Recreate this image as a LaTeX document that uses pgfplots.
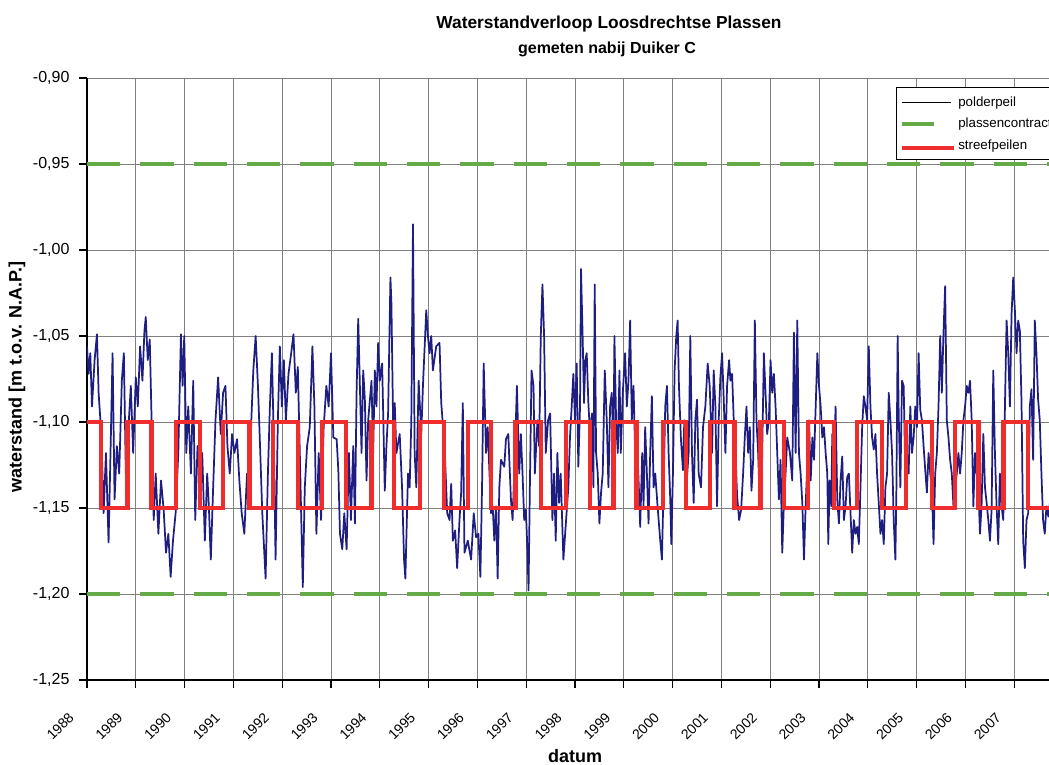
\documentclass[border=0pt]{standalone}
\usepackage{pgfplots}
\pgfplotsset{compat=1.18}
\usepackage{fontspec}
\setmainfont{Liberation Sans}
\definecolor{polder}{RGB}{30,30,130}
\definecolor{contract}{RGB}{100,170,70}
\definecolor{streef}{RGB}{240,45,45}
\begin{document}
\begin{tikzpicture}
\useasboundingbox (-65.25pt,-63pt) rectangle (721.5pt,510pt);
\clip (-65.25pt,-63pt) rectangle (721.5pt,510pt);
\begin{axis}[
  at={(0pt,0pt)}, anchor=south west,
  scale only axis,
  width=750.3pt, height=451.5pt,
  xmin=1988, xmax=2008.5, ymin=-1.25, ymax=-0.90,
  axis lines*=left,
  axis line style={black, line width=1.4pt},
  xtick={1988,1989,1990,1991,1992,1993,1994,1995,1996,1997,1998,1999,2000,2001,2002,2003,2004,2005,2006,2007,2008},
  xticklabels={1988,1989,1990,1991,1992,1993,1994,1995,1996,1997,1998,1999,2000,2001,2002,2003,2004,2005,2006,2007,{}},
  ytick={-1.25,-1.20,-1.15,-1.10,-1.05,-1.00,-0.95,-0.90},
  /pgf/number format/assume math mode=true,
  yticklabel style={/pgf/number format/fixed, /pgf/number format/fixed zerofill, /pgf/number format/precision=2, /pgf/number format/use comma,
    anchor=east, inner sep=0pt, xshift=-7pt, font=\fontsize{12}{14}\selectfont},
  xticklabel style={xshift=-14.5pt, yshift=-17.5pt, rotate=45, anchor=north east, inner sep=0pt, font=\fontsize{10.5}{12}\selectfont},
  grid=major,
  major grid style={black!50, line width=0.6pt},
  tick align=outside,
  major tick length=6pt,
  tick style={black, line width=0.8pt},
  legend style={at={(axis cs:2004.57,-0.9055)}, anchor=north west, draw=black, line width=0.75pt,
    font=\fontsize{10}{12}\selectfont, row sep=3.3pt, inner xsep=2.5pt, inner ysep=4.5pt},
  legend cell align=left,
]
\addplot[polder, line width=1.3pt, line join=round,
  legend image code/.code={\draw[black, line width=0.9pt] (0pt,0pt) -- (37pt,0pt);}] coordinates {
(1988.000,-1.056) (1988.034,-1.072) (1988.068,-1.060) (1988.102,-1.091) (1988.156,-1.064) (1988.204,-1.049) (1988.238,-1.083) (1988.293,-1.107) (1988.340,-1.153) (1988.388,-1.118) (1988.442,-1.170) (1988.490,-1.107) (1988.524,-1.060) (1988.565,-1.145) (1988.612,-1.114) (1988.660,-1.130) (1988.714,-1.076) (1988.755,-1.060) (1988.796,-1.130) (1988.850,-1.103) (1988.898,-1.079) (1988.946,-1.118) (1989.000,-1.074)
(1989.041,-1.091) (1989.088,-1.056) (1989.136,-1.076) (1989.177,-1.047) (1989.204,-1.039) (1989.245,-1.064) (1989.286,-1.052) (1989.327,-1.103) (1989.367,-1.157) (1989.408,-1.130) (1989.463,-1.165) (1989.517,-1.134) (1989.571,-1.151) (1989.619,-1.176) (1989.667,-1.165) (1989.714,-1.190) (1989.762,-1.169) (1989.816,-1.153) (1989.871,-1.118) (1989.925,-1.049) (1989.959,-1.079) (1989.993,-1.050)
(1990.034,-1.118) (1990.075,-1.091) (1990.129,-1.130) (1990.177,-1.076) (1990.218,-1.157) (1990.265,-1.114) (1990.313,-1.130) (1990.361,-1.118) (1990.415,-1.169) (1990.463,-1.130) (1990.497,-1.149) (1990.537,-1.180) (1990.585,-1.138) (1990.633,-1.099) (1990.687,-1.074) (1990.741,-1.107) (1990.789,-1.083) (1990.837,-1.079) (1990.878,-1.114) (1990.925,-1.130) (1990.973,-1.107)
(1991.020,-1.118) (1991.075,-1.110) (1991.122,-1.134) (1991.170,-1.153) (1991.224,-1.165) (1991.279,-1.130) (1991.320,-1.149) (1991.367,-1.099) (1991.408,-1.070) (1991.456,-1.050) (1991.503,-1.079) (1991.551,-1.118) (1991.592,-1.153) (1991.626,-1.172) (1991.660,-1.191) (1991.707,-1.130) (1991.748,-1.091) (1991.789,-1.060) (1991.830,-1.114) (1991.864,-1.180) (1991.911,-1.099) (1991.952,-1.056) (1991.993,-1.091)
(1992.034,-1.064) (1992.075,-1.099) (1992.129,-1.072) (1992.184,-1.060) (1992.231,-1.049) (1992.279,-1.083) (1992.320,-1.068) (1992.361,-1.118) (1992.388,-1.153) (1992.422,-1.196) (1992.463,-1.138) (1992.510,-1.114) (1992.565,-1.103) (1992.619,-1.056) (1992.660,-1.091) (1992.701,-1.165) (1992.748,-1.118) (1992.796,-1.157) (1992.850,-1.103) (1992.905,-1.079) (1992.952,-1.091) (1993.000,-1.060)
(1993.048,-1.109) (1993.116,-1.110) (1993.150,-1.128) (1993.184,-1.165) (1993.231,-1.174) (1993.272,-1.153) (1993.320,-1.174) (1993.367,-1.118) (1993.408,-1.157) (1993.456,-1.114) (1993.490,-1.159) (1993.524,-1.083) (1993.558,-1.040) (1993.592,-1.079) (1993.626,-1.118) (1993.660,-1.070) (1993.694,-1.087) (1993.728,-1.134) (1993.762,-1.099) (1993.830,-1.076) (1993.864,-1.118) (1993.898,-1.070) (1993.932,-1.091) (1993.966,-1.054)
(1994.000,-1.076) (1994.048,-1.066) (1994.102,-1.140) (1994.136,-1.114) (1994.170,-1.095) (1994.218,-1.016) (1994.238,-1.031) (1994.272,-1.099) (1994.306,-1.089) (1994.340,-1.118) (1994.408,-1.107) (1994.456,-1.138) (1994.497,-1.180) (1994.524,-1.191) (1994.578,-1.130) (1994.612,-1.138) (1994.646,-1.099) (1994.680,-0.985) (1994.714,-1.118) (1994.748,-1.138) (1994.796,-1.076) (1994.850,-1.107) (1994.884,-1.079) (1994.952,-1.035) (1994.986,-1.050)
(1995.020,-1.060) (1995.054,-1.050) (1995.088,-1.070) (1995.156,-1.056) (1995.224,-1.054) (1995.259,-1.089) (1995.327,-1.114) (1995.381,-1.153) (1995.429,-1.157) (1995.463,-1.136) (1995.497,-1.169) (1995.544,-1.163) (1995.585,-1.185) (1995.633,-1.157) (1995.667,-1.141) (1995.701,-1.089) (1995.735,-1.176) (1995.803,-1.169) (1995.871,-1.180) (1995.925,-1.153) (1995.973,-1.167)
(1996.020,-1.165) (1996.061,-1.190) (1996.095,-1.138) (1996.129,-1.066) (1996.177,-1.118) (1996.211,-1.103) (1996.245,-1.128) (1996.279,-1.153) (1996.313,-1.149) (1996.347,-1.169) (1996.381,-1.149) (1996.415,-1.191) (1996.449,-1.138) (1996.483,-1.122) (1996.551,-1.126) (1996.585,-1.110) (1996.633,-1.107) (1996.687,-1.145) (1996.721,-1.157) (1996.755,-1.130) (1996.810,-1.079) (1996.857,-1.130) (1996.891,-1.107) (1996.925,-1.130) (1996.959,-1.157) (1996.993,-1.151)
(1997.027,-1.176) (1997.048,-1.198) (1997.075,-1.138) (1997.109,-1.070) (1997.150,-1.079) (1997.177,-1.130) (1997.231,-1.099) (1997.265,-1.114) (1997.299,-1.050) (1997.333,-1.020) (1997.367,-1.050) (1997.401,-1.118) (1997.449,-1.099) (1997.490,-1.095) (1997.537,-1.157) (1997.571,-1.130) (1997.605,-1.169) (1997.639,-1.118) (1997.673,-1.147) (1997.707,-1.130) (1997.762,-1.180)
(1997.863,-1.138) (1997.897,-1.109) (1997.932,-1.091) (1997.966,-1.072) (1998.000,-1.099) (1998.034,-1.066) (1998.068,-1.126) (1998.103,-1.091) (1998.123,-1.011) (1998.158,-1.052) (1998.185,-1.089) (1998.212,-1.064) (1998.240,-1.060) (1998.274,-1.089) (1998.308,-1.107) (1998.349,-1.095) (1998.377,-1.138) (1998.404,-1.020) (1998.432,-1.118) (1998.466,-1.130) (1998.500,-1.159) (1998.534,-1.141) (1998.568,-1.130) (1998.610,-1.070) (1998.651,-1.099) (1998.685,-1.138) (1998.719,-1.091) (1998.753,-1.083) (1998.788,-1.118) (1998.808,-1.050) (1998.842,-1.099) (1998.877,-1.118) (1998.911,-1.070) (1998.938,-1.118) (1998.979,-1.083)
(1999.027,-1.060) (1999.062,-1.091) (1999.096,-1.076) (1999.130,-1.041) (1999.164,-1.099) (1999.199,-1.079) (1999.233,-1.118) (1999.267,-1.107) (1999.308,-1.138) (1999.336,-1.161) (1999.377,-1.118) (1999.404,-1.149) (1999.438,-1.103) (1999.473,-1.130) (1999.507,-1.159) (1999.541,-1.118) (1999.575,-1.085) (1999.610,-1.138) (1999.644,-1.130) (1999.692,-1.149) (1999.747,-1.169) (1999.781,-1.180) (1999.815,-1.138) (1999.849,-1.091) (1999.884,-1.079) (1999.918,-1.118) (1999.952,-1.145) (1999.973,-1.171)
(2000.007,-1.130) (2000.041,-1.070) (2000.075,-1.050) (2000.103,-1.041) (2000.130,-1.079) (2000.171,-1.110) (2000.212,-1.128) (2000.240,-1.099) (2000.281,-1.138) (2000.329,-1.118) (2000.363,-1.050) (2000.397,-1.118) (2000.432,-1.147) (2000.466,-1.099) (2000.500,-1.087) (2000.534,-1.130) (2000.582,-1.138) (2000.623,-1.103) (2000.671,-1.091) (2000.719,-1.066) (2000.760,-1.079) (2000.808,-1.118) (2000.842,-1.070) (2000.877,-1.091) (2000.911,-1.149) (2000.945,-1.099) (2000.979,-1.074)
(2001.014,-1.060) (2001.048,-1.087) (2001.082,-1.118) (2001.116,-1.079) (2001.158,-1.064) (2001.185,-1.076) (2001.219,-1.072) (2001.253,-1.099) (2001.288,-1.118) (2001.322,-1.143) (2001.363,-1.157) (2001.404,-1.151) (2001.445,-1.130) (2001.479,-1.109) (2001.514,-1.091) (2001.548,-1.118) (2001.582,-1.103) (2001.616,-1.140) (2001.651,-1.122) (2001.685,-1.041) (2001.719,-1.099) (2001.753,-1.118) (2001.788,-1.149) (2001.829,-1.130) (2001.870,-1.060) (2001.904,-1.083) (2001.938,-1.107) (2001.973,-1.099)
(2002.007,-1.064) (2002.041,-1.083) (2002.075,-1.072) (2002.110,-1.091) (2002.144,-1.118) (2002.178,-1.145) (2002.212,-1.122) (2002.247,-1.176) (2002.281,-1.147) (2002.315,-1.130) (2002.349,-1.109) (2002.404,-1.118) (2002.452,-1.134) (2002.486,-1.048) (2002.521,-1.118) (2002.555,-1.041) (2002.589,-1.118) (2002.623,-1.130) (2002.658,-1.147) (2002.692,-1.180) (2002.726,-1.149)
(2002.796,-1.099) (2002.830,-1.134) (2002.864,-1.109) (2002.898,-1.122) (2002.932,-1.091) (2002.966,-1.060) (2003.000,-1.079) (2003.034,-1.091) (2003.068,-1.109) (2003.102,-1.103) (2003.136,-1.118) (2003.170,-1.130) (2003.190,-1.171) (2003.218,-1.134) (2003.252,-1.149) (2003.272,-1.107) (2003.306,-1.124) (2003.340,-1.091) (2003.374,-1.145) (2003.408,-1.159) (2003.442,-1.134) (2003.476,-1.120) (2003.510,-1.157) (2003.544,-1.149) (2003.578,-1.132) (2003.612,-1.130) (2003.646,-1.153) (2003.680,-1.176) (2003.714,-1.157) (2003.748,-1.165) (2003.782,-1.161) (2003.816,-1.171) (2003.850,-1.138) (2003.884,-1.103) (2003.918,-1.085) (2003.952,-1.091) (2003.986,-1.099)
(2004.020,-1.056) (2004.054,-1.091) (2004.088,-1.109) (2004.122,-1.116) (2004.156,-1.107) (2004.190,-1.130) (2004.224,-1.147) (2004.259,-1.165) (2004.293,-1.157) (2004.327,-1.171) (2004.361,-1.138) (2004.395,-1.130) (2004.429,-1.083) (2004.463,-1.099) (2004.497,-1.118) (2004.531,-1.157) (2004.565,-1.180) (2004.585,-1.141) (2004.612,-1.050) (2004.633,-1.095) (2004.667,-1.138) (2004.701,-1.076) (2004.735,-1.079) (2004.769,-1.130) (2004.803,-1.118) (2004.837,-1.130) (2004.871,-1.091) (2004.905,-1.118) (2004.939,-1.109) (2004.973,-1.091)
(2005.007,-1.103) (2005.041,-1.060) (2005.075,-1.093) (2005.109,-1.099) (2005.143,-1.114) (2005.177,-1.128) (2005.211,-1.141) (2005.245,-1.118) (2005.279,-1.130) (2005.313,-1.138) (2005.347,-1.171) (2005.381,-1.130) (2005.415,-1.118) (2005.449,-1.091) (2005.483,-1.050) (2005.517,-1.083) (2005.551,-1.048) (2005.585,-1.021) (2005.619,-1.099) (2005.653,-1.109) (2005.687,-1.122) (2005.721,-1.130) (2005.755,-1.149) (2005.789,-1.138) (2005.823,-1.130) (2005.857,-1.118) (2005.891,-1.130) (2005.925,-1.118) (2005.959,-1.099) (2005.993,-1.091)
(2006.027,-1.079) (2006.061,-1.083) (2006.095,-1.076) (2006.129,-1.099) (2006.163,-1.149) (2006.197,-1.118) (2006.231,-1.130) (2006.265,-1.138) (2006.299,-1.165) (2006.333,-1.147) (2006.367,-1.107) (2006.401,-1.138) (2006.435,-1.147) (2006.469,-1.157) (2006.503,-1.169) (2006.537,-1.151) (2006.571,-1.070) (2006.605,-1.118) (2006.639,-1.149) (2006.673,-1.171) (2006.707,-1.130) (2006.741,-1.149) (2006.776,-1.157) (2006.810,-1.091) (2006.844,-1.041) (2006.878,-1.060) (2006.912,-1.091) (2006.946,-1.037) (2006.980,-1.016)
(2007.014,-1.035) (2007.048,-1.060) (2007.082,-1.041) (2007.116,-1.047) (2007.150,-1.089) (2007.184,-1.169) (2007.218,-1.185) (2007.252,-1.157) (2007.286,-1.153) (2007.320,-1.091) (2007.354,-1.081) (2007.388,-1.122) (2007.422,-1.041) (2007.456,-1.060) (2007.490,-1.087) (2007.524,-1.099) (2007.558,-1.130) (2007.592,-1.157) (2007.626,-1.165) (2007.660,-1.149) (2007.700,-1.155) (2007.760,-1.140)
};
\addplot[contract, line width=3.2pt, dash pattern=on 25pt off 15pt,
  legend image code/.code={\draw[contract, line width=3.2pt] (0pt,0pt) -- (24pt,0pt);}] coordinates {(1988,-0.95) (2008.5,-0.95)};
\addplot[contract, line width=3.2pt, dash pattern=on 25pt off 15pt, forget plot] coordinates {(1988,-1.20) (2008.5,-1.20)};
\addplot[streef, line width=3.2pt, const plot, line join=miter,
  legend image code/.code={\draw[streef, line width=3pt] (0pt,-2pt) -- (39pt,-2pt);}] coordinates {
(1988.00,-1.10) (1988.29,-1.15) (1988.83,-1.10) (1989.32,-1.15) (1989.82,-1.10) (1990.31,-1.15) (1990.79,-1.10) (1991.33,-1.15) (1991.81,-1.10) (1992.32,-1.15) (1992.81,-1.10) (1993.30,-1.15) (1993.83,-1.10) (1994.29,-1.15) (1994.82,-1.10) (1995.31,-1.15) (1995.80,-1.10) (1996.28,-1.15) (1996.78,-1.10) (1997.30,-1.15) (1997.81,-1.10) (1998.31,-1.15) (1998.79,-1.10) (1999.26,-1.15) (1999.80,-1.10) (2000.27,-1.15) (2000.77,-1.10) (2001.27,-1.15) (2001.80,-1.10) (2002.28,-1.15) (2002.77,-1.10) (2003.31,-1.15) (2003.78,-1.10) (2004.29,-1.15) (2004.78,-1.10) (2005.31,-1.15) (2005.79,-1.10) (2006.27,-1.15) (2006.78,-1.10) (2007.29,-1.15) (2007.90,-1.15)
};
\legend{polderpeil, plassencontract, streefpeilen}
\end{axis}
\node[font=\bfseries\fontsize{13}{15}\selectfont] at (391.5pt,492pt) {Waterstandverloop Loosdrechtse Plassen};
\node[font=\bfseries\fontsize{12}{14}\selectfont] at (390pt,473.25pt) {gemeten nabij Duiker C};
\node[rotate=90, font=\bfseries\fontsize{13.5}{15}\selectfont] at (-52.5pt,227.25pt) {waterstand [m t.o.v. N.A.P.]};
\node[font=\bfseries\fontsize{13.5}{15}\selectfont] at (366pt,-57pt) {datum};
\end{tikzpicture}
\end{document}
